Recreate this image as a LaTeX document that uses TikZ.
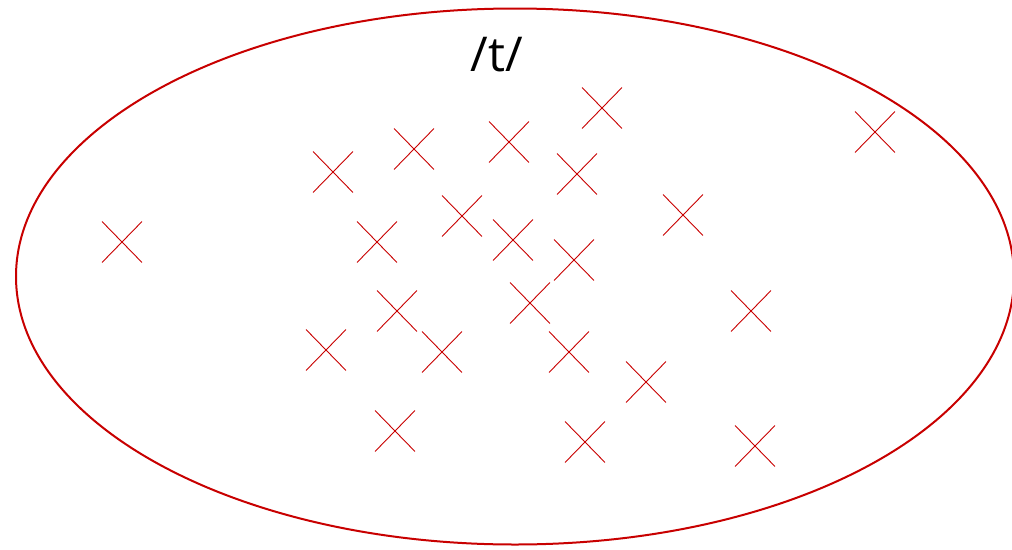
\documentclass[tikz,border=0pt]{standalone}
\usepackage{fontspec}
\setmainfont{Open Sans}
\usetikzlibrary{shapes.misc}
\definecolor{xred}{RGB}{200,0,0}
\begin{document}
\begin{tikzpicture}[x=1pt,y=-1pt,
  cross/.style={draw=xred,cross out,line width=0.9pt,minimum width=39pt,minimum height=40pt,inner sep=0pt}]
\useasboundingbox (0,0) rectangle (1012,549);
\clip (0,0) rectangle (1012,549);
\draw[xred,line width=2pt] (515,276.5) ellipse [x radius=499,y radius=268];
\node[font=\fontsize{48}{56}\selectfont] (lbl) at (497,55) {/t/};
\foreach \n/\x/\y in {a/602/108, b/875/132, c/414/149, d/509/142, e/333/172, f/577/174,
  g/462/216, h/683/215, i/122/242, j/377/242, k/513/240, l/574/260, m/397/311,
  n/530/303, o/751/311, p/326/350, q/442/352, r/569/352, s/646/382, t/395/431,
  u/585/442, v/755/446}
  \node[cross] (x\n) at (\x,\y) {};
\end{tikzpicture}
\end{document}
